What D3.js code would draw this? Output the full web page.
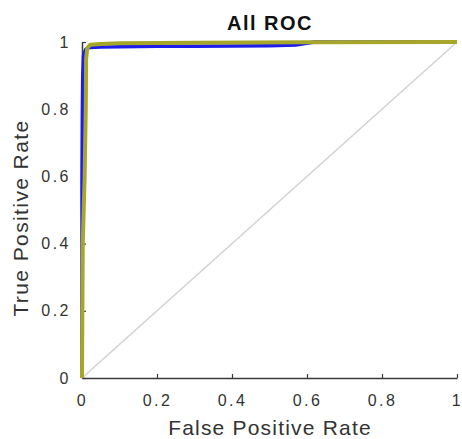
<!DOCTYPE html>
<html>
<head>
<meta charset="utf-8">
<script src="https://d3js.org/d3.v7.min.js"></script>
<style>
	body { margin: 0; background: #fff; }
	text { font-family: "Liberation Sans", Arial, sans-serif; fill: #333; }
</style>
</head>
<body>
<div id="vis-roc"></div>
<script>

	// Data //
	// ---- //

	let blueFpr = [0, 0, 0, 0.001, 0.002, 0.004, 0.01, 0.02, 0.05, 0.1, 0.2, 0.3, 0.4, 0.5, 0.57, 0.62, 1];
	let blueTpr = [0, 0.4, 0.6, 0.8, 0.9, 0.96, 0.978, 0.984, 0.985, 0.986, 0.987, 0.987, 0.988, 0.989, 0.991, 1, 1];

	let yellowFpr = [0, 0.002, 0.007, 0.01, 0.011, 0.014, 0.022, 0.05, 0.1, 0.3, 0.6, 1];
	let yellowTpr = [0, 0.4, 0.6, 0.8, 0.95, 0.982, 0.992, 0.994, 0.996, 0.998, 0.999, 1];

	let chanceLine = [0, 1];
	let tickValues = [0, 0.2, 0.4, 0.6, 0.8, 1];

	// Setup //
	// ----- //

	let W = 462, H = 439;
	let margin = {top: 42, right: 5, bottom: 61, left: 82},
		width = W - margin.left - margin.right,
		height = H - margin.top - margin.bottom;

	let svg = d3.select("#vis-roc")
		.append("svg")
			.attr("width", W)
			.attr("height", H);

	let g = svg.append("g")
		.attr("transform", "translate(" + margin.left + "," + margin.top + ")");

	let x = d3.scaleLinear().domain([0, 1]).range([0, width]);
	let y = d3.scaleLinear().domain([0, 1]).range([height, 0]);

	let straight = d3.line().x(d => x(d[0])).y(d => y(d[1]));

	// Axes
	let fmt = d => d === 0 || d === 1 ? String(d) : d.toFixed(1);

	let xAxis = g.append("g")
		.attr("transform", "translate(0," + height + ")")
		.call(d3.axisBottom(x).tickValues(tickValues).tickFormat(fmt).tickSizeInner(-4).tickSizeOuter(0).tickPadding(17));
	let yAxis = g.append("g")
		.call(d3.axisLeft(y).tickValues(tickValues).tickFormat(fmt).tickSizeInner(-4).tickSizeOuter(0).tickPadding(11));

	for (let ax of [xAxis, yAxis]) {
		ax.select(".domain").attr("stroke", "#3a3a3a").attr("stroke-width", 1.5);
		ax.selectAll(".tick line").attr("stroke", "#3a3a3a").attr("stroke-width", 1.2);
		ax.selectAll(".tick text")
			.attr("fill", "#3a3a3a")
			.style("font-size", "16px")
			.style("letter-spacing", "2.5px")
			.style("font-family", "'Liberation Sans', Arial, sans-serif");
	}

	// Chance diagonal
	g.append("path")
		.attr("d", straight(chanceLine.map(v => [v, v])))
		.attr("fill", "none")
		.attr("stroke", "#d2d2d2")
		.attr("stroke-width", 1.5);

	// Curves
	g.append("path")
		.attr("d", straight(blueFpr.map((v, i) => [v, blueTpr[i]])))
		.attr("fill", "none")
		.attr("stroke", "#1c1ced")
		.attr("stroke-width", 3.5)
		.attr("stroke-linejoin", "round");

	g.append("path")
		.attr("d", straight(yellowFpr.map((v, i) => [v, yellowTpr[i]])))
		.attr("fill", "none")
		.attr("stroke", "#a6a62a")
		.attr("stroke-width", 4)
		.attr("stroke-linejoin", "round");

	// Labels
	svg.append("text")
		.attr("x", 270).attr("y", 30)
		.attr("text-anchor", "middle")
		.style("font-size", "20px")
		.style("font-weight", "bold")
		.style("letter-spacing", "1.5px")
		.style("fill", "#111")
		.text("All ROC");

	svg.append("text")
		.attr("x", 270).attr("y", 435)
		.attr("text-anchor", "middle")
		.style("font-size", "21px")
		.style("letter-spacing", "1.2px")
		.text("False Positive Rate");

	svg.append("text")
		.attr("transform", "translate(28,218) rotate(-90)")
		.attr("text-anchor", "middle")
		.style("font-size", "21px")
		.style("letter-spacing", "1.4px")
		.text("True Positive Rate");

</script>
</body>
</html>
